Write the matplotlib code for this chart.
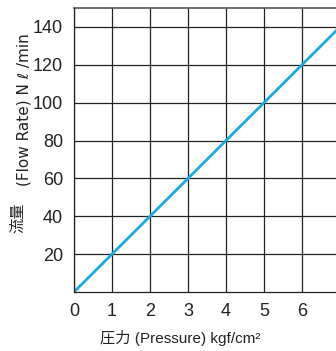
import matplotlib
matplotlib.use("Agg")
import matplotlib.pyplot as plt

pressure = [0, 7]
flow = [0, 140]
xticks = [0, 1, 2, 3, 4, 5, 6, 7]
yticks = [20, 40, 60, 80, 100, 120, 140]

fam = ['Liberation Sans Narrow', 'Liberation Sans', 'Noto Sans CJK JP']
plt.rcParams['font.family'] = fam

W, H = 336, 351
fig = plt.figure(figsize=(W/100, H/100), dpi=100)
left, right, top, bottom = 74, 340, 8, 292
ax = fig.add_axes([left/W, (H-bottom)/H, (right-left)/W, (bottom-top)/H])
ax.set_xlim(0, 7)
ax.set_ylim(0, 150)
ax.set_xticks(xticks)
ax.set_yticks(yticks)
ax.grid(True, color='#222222', linewidth=0.9)
ax.axhline(150, color='#555555', linewidth=1.2, clip_on=False)
for s in ax.spines.values():
    s.set_color('#222222')
    s.set_linewidth(0.9)
ax.spines['top'].set_visible(False)
ax.tick_params(axis='x', length=0, labelsize=13, colors='#222222', pad=8)
ax.tick_params(axis='y', length=0, labelsize=13, colors='#222222', pad=8)
ax.plot(pressure, flow, color='#1BA9E1', linewidth=2, solid_capstyle='butt')

fig.text(180/W, 1-338/H, '圧力 (Pressure) kgf/cm²', ha='center', va='center',
         fontsize=11, color='#222222')
fig.text(18/W, 1-218/H, '流量', rotation=90, ha='center', va='center',
         fontsize=11, color='#222222')
fig.text(24/W, 1-110/H, '(Flow Rate) N ℓ /min', rotation=90, ha='center', va='center',
         fontsize=11, color='#222222', family=['Liberation Sans Narrow', 'DejaVu Sans'])
fig.savefig('out.png', dpi=100)
